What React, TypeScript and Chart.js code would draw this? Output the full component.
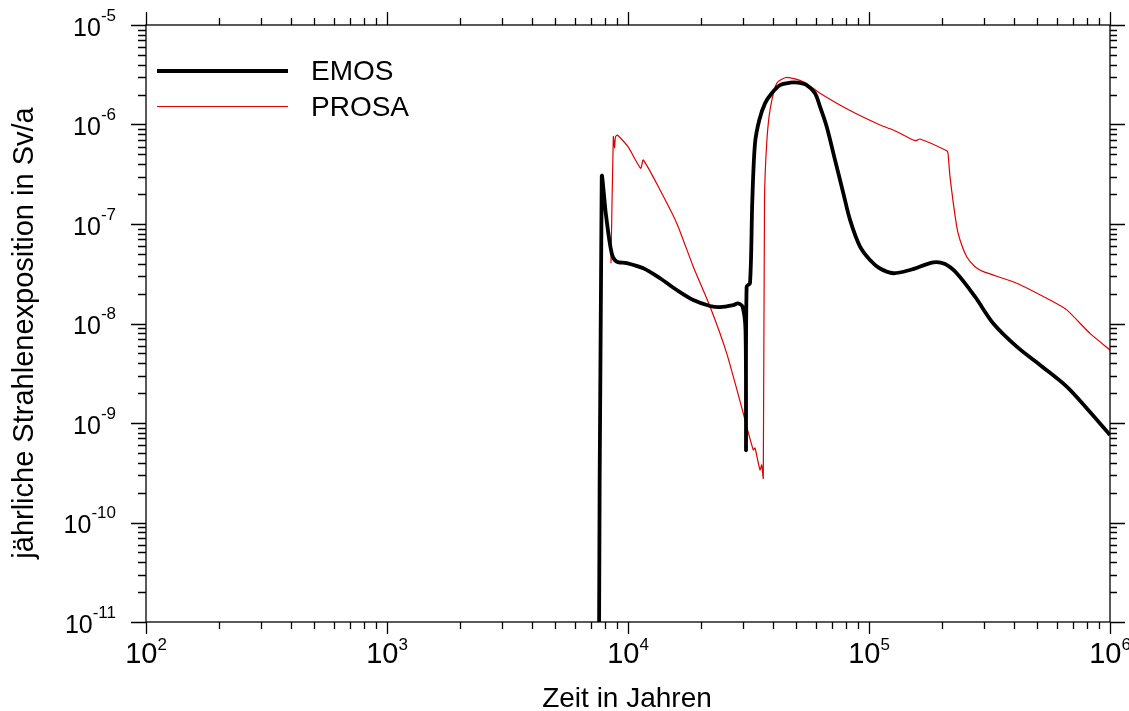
import React, { useEffect, useRef } from "react";
import { Chart, registerables } from "chart.js";

Chart.register(...registerables);

// ---- data ----
const EMOS_T = [
  7560, 7780, 8103, 8557, 8975, 9876, 11570, 13580, 15930, 18660, 21890, 24080,
  27350, 28600, 29860, 30730, 30880, 31060, 32080, 32800, 33650, 35060, 37030,
  39480, 42730, 47000, 50760, 55130, 59690, 62620, 66760, 72280, 78240, 83420,
  91780, 100950, 111100, 126160, 147900, 184900, 206800, 231200, 275400, 328000,
  410200, 512300, 661300, 826000, 1000000,
];
const EMOS_V = [
  1e-12, 2.95e-7, 1.23e-7, 5.08e-8, 4.18e-8, 4.05e-8, 3.59e-8, 2.85e-8, 2.17e-8,
  1.72e-8, 1.5e-8, 1.46e-8, 1.53e-8, 1.59e-8, 1.48e-8, 8.6e-9, 5.36e-10, 2.34e-8,
  2.54e-8, 1.74e-7, 6.47e-7, 1.11e-6, 1.63e-6, 2.06e-6, 2.49e-6, 2.63e-6, 2.63e-6,
  2.49e-6, 2.06e-6, 1.51e-6, 9.5e-7, 4.4e-7, 2.04e-7, 1.1e-7, 5.92e-8, 4.35e-8,
  3.57e-8, 3.2e-8, 3.45e-8, 4.12e-8, 3.96e-8, 3.2e-8, 1.86e-8, 1.0e-8, 5.85e-9,
  3.83e-9, 2.32e-9, 1.29e-9, 7.57e-10,
];

const PROSA_T = [
  8500, 8690, 8790, 8870, 9030, 10000, 11290, 11570, 13580, 15930, 18660, 21890,
  25680, 30090, 31090, 33110, 33650, 35290, 35870, 36420, 36850, 37630, 38850,
  41400, 45550, 53380, 62620, 83420, 111100, 126150, 152700, 157000, 162800,
  210100, 212700, 216800, 231200, 238600, 254300, 275400, 298100, 410200, 563600,
  661300, 826000, 1000000,
];
const PROSA_V = [
  4.03e-8, 7.53e-7, 5.8e-7, 7.48e-7, 7.84e-7, 5.98e-7, 3.63e-7, 4.4e-7, 2.2e-7,
  1.02e-7, 3.72e-8, 1.48e-8, 5.01e-9, 1.25e-9, 9.18e-10, 5.36e-10, 5.61e-10,
  3.38e-10, 3.79e-10, 2.78e-10, 1.74e-7, 6.47e-7, 1.4e-6, 2.6e-6, 2.98e-6,
  2.69e-6, 2.06e-6, 1.38e-6, 9.89e-7, 8.81e-7, 6.98e-7, 6.9e-7, 7.15e-7, 5.45e-7,
  5.17e-7, 2.99e-7, 9.4e-8, 6.9e-8, 4.69e-8, 3.72e-8, 3.32e-8, 2.54e-8, 1.72e-8,
  1.37e-8, 7.96e-9, 5.42e-9,
];

const X_EXPONENTS = [2, 3, 4, 5, 6];
const Y_EXPONENTS = [-11, -10, -9, -8, -7, -6, -5];
const SERIES_LABELS = ["EMOS", "PROSA"];
const X_TITLE = "Zeit in Jahren";
const Y_TITLE = "jährliche Strahlenexposition in Sv/a";

const FONT = "'Liberation Sans', Arial, Helvetica, sans-serif";

const decoPlugin = {
  id: "deco",
  afterDraw(chart: any) {
    const { ctx, chartArea: a, scales } = chart;
    const xs = scales.x;
    const ys = scales.y;
    ctx.save();
    ctx.strokeStyle = "#000";
    ctx.fillStyle = "#000";
    ctx.lineWidth = 1.3;
    ctx.strokeRect(a.left, a.top, a.right - a.left, a.bottom - a.top);

    const xMin = X_EXPONENTS[0];
    const xMax = X_EXPONENTS[X_EXPONENTS.length - 1];
    ctx.beginPath();
    for (let e = xMin; e <= xMax; e++) {
      for (let k = 1; k <= 9; k++) {
        if (e === xMax && k > 1) break;
        const v = k * Math.pow(10, e);
        const px = Math.round(xs.getPixelForValue(v)) + 0.5;
        const major = k === 1;
        ctx.moveTo(px, a.bottom);
        ctx.lineTo(px, a.bottom + (major ? 12 : 7));
        ctx.moveTo(px, a.top);
        ctx.lineTo(px, a.top - (major ? 13 : 7));
      }
    }
    const yMin = Y_EXPONENTS[0];
    const yMax = Y_EXPONENTS[Y_EXPONENTS.length - 1];
    for (let e = yMin; e <= yMax; e++) {
      for (let k = 1; k <= 9; k++) {
        if (e === yMax && k > 1) break;
        const v = k * Math.pow(10, e);
        const py = Math.round(ys.getPixelForValue(v)) + 0.5;
        const major = k === 1;
        ctx.moveTo(a.left, py);
        ctx.lineTo(a.left - (major ? 15 : 8), py);
        ctx.moveTo(a.right, py);
        ctx.lineTo(a.right + (major ? 15 : 7), py);
      }
    }
    ctx.stroke();

    ctx.textBaseline = "alphabetic";
    ctx.textAlign = "left";
    for (const e of X_EXPONENTS) {
      const px = xs.getPixelForValue(Math.pow(10, e));
      ctx.font = `29px ${FONT}`;
      const wb = ctx.measureText("10").width;
      ctx.font = `17px ${FONT}`;
      const we = ctx.measureText(String(e)).width;
      const start = px - (wb + we) / 2;
      ctx.font = `29px ${FONT}`;
      ctx.fillText("10", start, 663);
      ctx.font = `17px ${FONT}`;
      ctx.fillText(String(e), start + wb, 650);
    }
    for (const e of Y_EXPONENTS) {
      const py = ys.getPixelForValue(Math.pow(10, e));
      ctx.font = `17px ${FONT}`;
      const ex = String(e);
      const we = ctx.measureText(ex).width;
      ctx.font = `25px ${FONT}`;
      const wb = ctx.measureText("10").width;
      const right = 116;
      ctx.fillText("10", right - we - wb, py + 10.5);
      ctx.font = `17px ${FONT}`;
      ctx.fillText(ex, right - we, py - 4.5);
    }

    ctx.font = `28px ${FONT}`;
    ctx.textAlign = "center";
    ctx.fillText(X_TITLE, (a.left + a.right) / 2 - 1, 707);
    ctx.save();
    ctx.translate(33, 333);
    ctx.rotate(-Math.PI / 2);
    ctx.font = `29px ${FONT}`;
    ctx.fillText(Y_TITLE, 0, 0);
    ctx.restore();

    const ds = chart.data.datasets;
    const rows = [71, 106.5];
    ds.forEach((d: any, i: number) => {
      ctx.beginPath();
      ctx.strokeStyle = d.borderColor;
      ctx.lineWidth = d.borderWidth;
      ctx.moveTo(157, rows[i]);
      ctx.lineTo(288, rows[i]);
      ctx.stroke();
      ctx.fillStyle = "#000";
      ctx.textAlign = "left";
      ctx.font = `28px ${FONT}`;
      ctx.fillText(d.label, 311, rows[i] + 9);
    });
    ctx.restore();
  },
};

export default function App() {
  const ref = useRef<HTMLCanvasElement | null>(null);
  useEffect(() => {
    if (!ref.current) return;
    const chart = new Chart(ref.current, {
      type: "line",
      data: {
        datasets: [
          {
            label: SERIES_LABELS[0],
            data: EMOS_T.map((t, i) => ({ x: t, y: EMOS_V[i] })),
            borderColor: "#000000",
            borderWidth: 3.8,
            pointRadius: 0,
            tension: 0.3,
            borderJoinStyle: "round",
            borderCapStyle: "butt",
          },
          {
            label: SERIES_LABELS[1],
            data: PROSA_T.map((t, i) => ({ x: t, y: PROSA_V[i] })),
            borderColor: "#e00000",
            borderWidth: 1.2,
            pointRadius: 0,
            tension: 0.2,
          },
        ],
      },
      options: {
        animation: false,
        responsive: false,
        devicePixelRatio: 1,
        parsing: false as any,
        normalized: true,
        layout: { padding: { top: 25, right: 19, left: 0, bottom: 0 } },
        plugins: { legend: { display: false }, tooltip: { enabled: false } },
        events: [],
        scales: {
          x: {
            type: "logarithmic",
            min: 100,
            max: 1e6,
            grid: { display: false },
            border: { display: false },
            ticks: { display: false },
            afterFit: (s: any) => {
              s.height = 89;
            },
          },
          y: {
            type: "logarithmic",
            min: 1e-11,
            max: 1e-5,
            grid: { display: false },
            border: { display: false },
            ticks: { display: false },
            afterFit: (s: any) => {
              s.width = 146;
            },
          },
        },
      },
      plugins: [decoPlugin],
    });
    return () => chart.destroy();
  }, []);
  return (
    <div style={{ position: "absolute", left: 0, top: 0, width: 1129, height: 711, background: "#fff" }}>
      <canvas ref={ref} width={1129} height={711} />
    </div>
  );
}
